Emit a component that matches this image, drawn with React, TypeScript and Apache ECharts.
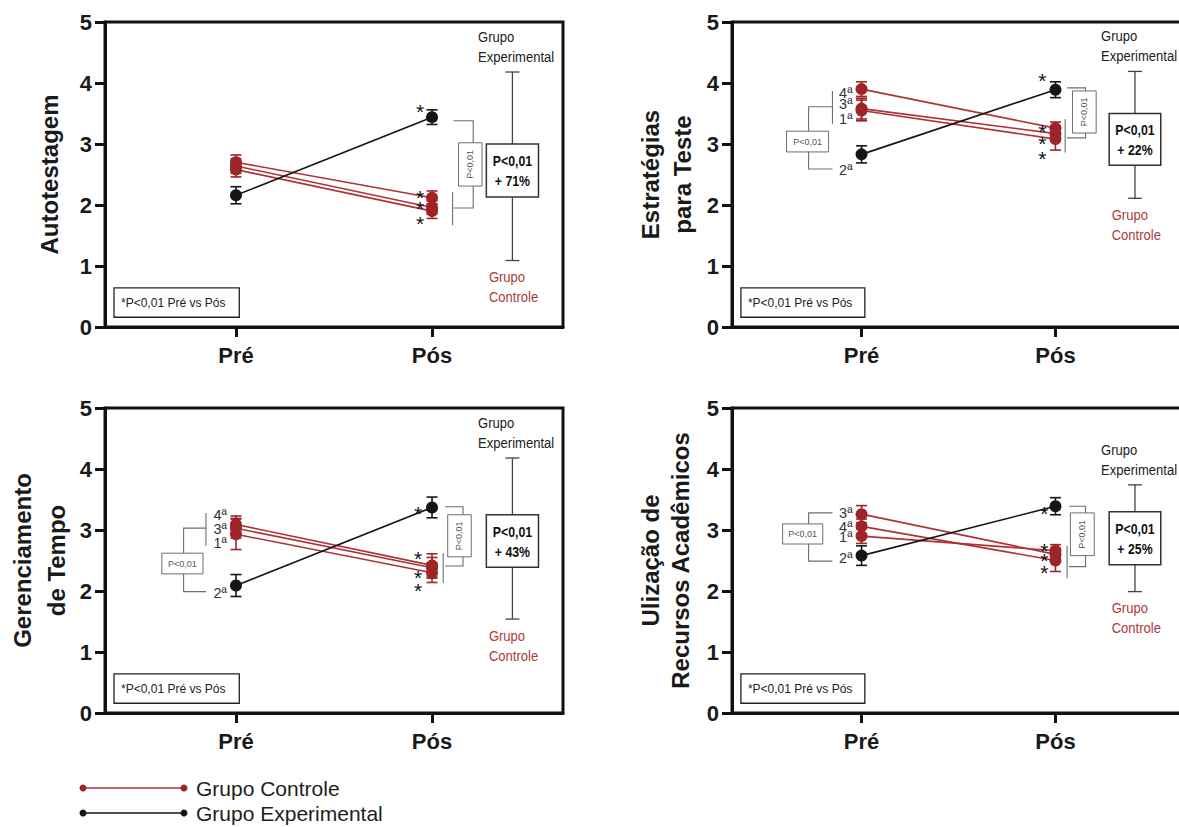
import React, { useEffect, useRef } from 'react';
import * as echarts from 'echarts';

// ---------------- data ----------------
const timePoints = ['Pré', 'Pós'];
const panelTitles = ['Autotestagem', 'Estratégias\npara Teste', 'Gerenciamento\nde Tempo', 'Ulização de\nRecursos Acadêmicos'];
const groupNames = ['Grupo Controle', 'Grupo Experimental'];
const significanceNote = '*P<0,01 Pré vs Pós';
const bracketText = 'P<0,01';

// Autotestagem
const autoControlePre = [2.70, 2.64, 2.58];
const autoControlePos = [2.12, 1.96, 1.90];
const autoControleErrPre = [0.12, 0.12, 0.12];
const autoControleErrPos = [0.11, 0.11, 0.12];
const autoExperimental = [2.16, 3.44];
const autoExperimentalErr = [0.14, 0.12];
const autoBox = [1.09, 2.13, 3.00, 4.18];
const autoBoxText = ['P<0,01', '+ 71%'];
const autoMoments: string[] = [];
const autoMomentExp = '';

// Estratégias para Teste
const estControlePre = [3.90, 3.58, 3.55];
const estControlePos = [3.26, 3.17, 3.08];
const estControleErrPre = [0.12, 0.17, 0.17];
const estControleErrPos = [0.10, 0.12, 0.18];
const estExperimental = [2.83, 3.89];
const estExperimentalErr = [0.14, 0.13];
const estBox = [2.11, 2.65, 3.50, 4.19];
const estBoxText = ['P<0,01', '+ 22%'];
const estMoments = ['4ª', '3ª', '1ª'];
const estMomentExp = '2ª';

// Gerenciamento de Tempo
const gerControlePre = [3.09, 3.03, 2.93];
const gerControlePos = [2.42, 2.38, 2.30];
const gerControleErrPre = [0.14, 0.16, 0.25];
const gerControleErrPos = [0.19, 0.17, 0.16];
const gerExperimental = [2.09, 3.37];
const gerExperimentalErr = [0.18, 0.17];
const gerBox = [1.54, 2.39, 3.25, 4.18];
const gerBoxText = ['P<0,01', '+ 43%'];
const gerMoments = ['4ª', '3ª', '1ª'];
const gerMomentExp = '2ª';

// Utilização de Recursos Acadêmicos
const recControlePre = [3.26, 3.06, 2.90];
const recControlePos = [2.60, 2.50, 2.66];
const recControleErrPre = [0.14, 0.12, 0.12];
const recControleErrPos = [0.10, 0.18, 0.10];
const recExperimental = [2.58, 3.39];
const recExperimentalErr = [0.16, 0.14];
const recBox = [1.99, 2.43, 3.30, 3.74];
const recBoxText = ['P<0,01', '+ 25%'];
const recMoments = ['3ª', '4ª', '1ª'];
const recMomentExp = '2ª';

const panels = [
  { title: panelTitles[0], cPre: autoControlePre, cPos: autoControlePos, cErrPre: autoControleErrPre, cErrPos: autoControleErrPos, exp: autoExperimental, expErr: autoExperimentalErr, box: autoBox, boxText: autoBoxText, moments: autoMoments, momentExp: autoMomentExp },
  { title: panelTitles[1], cPre: estControlePre, cPos: estControlePos, cErrPre: estControleErrPre, cErrPos: estControleErrPos, exp: estExperimental, expErr: estExperimentalErr, box: estBox, boxText: estBoxText, moments: estMoments, momentExp: estMomentExp },
  { title: panelTitles[2], cPre: gerControlePre, cPos: gerControlePos, cErrPre: gerControleErrPre, cErrPos: gerControleErrPos, exp: gerExperimental, expErr: gerExperimentalErr, box: gerBox, boxText: gerBoxText, moments: gerMoments, momentExp: gerMomentExp },
  { title: panelTitles[3], cPre: recControlePre, cPos: recControlePos, cErrPre: recControleErrPre, cErrPos: recControleErrPos, exp: recExperimental, expErr: recExperimentalErr, box: recBox, boxText: recBoxText, moments: recMoments, momentExp: recMomentExp },
];

// ---------------- layout ----------------
const PRE = 1;
const POS = 2;
const X_MIN = 0.332;
const X_MAX = 2.668;
const FONT = "'Liberation Sans', Arial, Helvetica, sans-serif";
const RED = '#9e2428';
const RED_LINE = '#ad3235';
const RED_TEXT = '#ad3a3c';
const BLACK = '#151515';
const BRACKET = '#6e6e6e';
const NOTE_BOX = [0.378, 1.017, 0.16, 0.64];

const layouts: any[] = [
  {
    grid: { left: 105, top: 22, width: 458, height: 305 }, nameGap: 42, nameLH: 28,
    starDx: -12, starExp: 3.61, starCtrl: [2.21, 2.02, 1.78],
    labelY: [], labelExpY: 0,
    left: null,
    right: { x1: 2.11, x2: 2.21, top: 3.38, bottom: 1.95, spanX: 2.105, spanTop: 2.21, spanBottom: 1.67, box: [2.135, 2.255, 2.31, 3.02] },
  },
  {
    grid: { left: 732, top: 22, width: 453, height: 305 }, nameGap: 34, nameLH: 31.6,
    starDx: -13, starExp: 4.12, starCtrl: [3.29, 3.09, 2.85],
    labelY: [3.84, 3.66, 3.41], labelExpY: 2.57,
    left: { spanX: 0.85, spanTop: 3.87, spanBottom: 3.33, outerX: 0.727, top: 3.61, bottom: 2.59, box: [0.613, 0.83, 2.87, 3.21] },
    right: { x1: 2.06, x2: 2.155, top: 3.92, bottom: 3.1, spanX: 2.05, spanTop: 3.41, spanBottom: 2.86, box: [2.088, 2.21, 3.18, 3.87] },
  },
  {
    grid: { left: 105, top: 408, width: 458, height: 305 }, nameGap: 31.5, nameLH: 34,
    starDx: -14, starExp: 3.36, starCtrl: [2.62, 2.30, 2.09],
    labelY: [3.25, 3.02, 2.79], labelExpY: 1.97,
    left: { spanX: 0.847, spanTop: 3.28, spanBottom: 2.74, outerX: 0.733, top: 3.03, bottom: 1.99, box: [0.622, 0.832, 2.28, 2.62] },
    right: { x1: 2.066, x2: 2.158, top: 3.38, bottom: 2.41, spanX: 2.057, spanTop: 2.62, spanBottom: 2.13, box: [2.08, 2.20, 2.56, 3.25] },
  },
  {
    grid: { left: 732, top: 408, width: 453, height: 305 }, nameGap: 37, nameLH: 30,
    starDx: -11, starExp: 3.36, starCtrl: [2.75, 2.59, 2.39],
    labelY: [3.28, 3.05, 2.89], labelExpY: 2.54,
    left: { spanX: 0.85, spanTop: null, spanBottom: null, outerX: 0.727, top: 3.28, bottom: 2.49, box: [0.593, 0.80, 2.77, 3.10] },
    right: { x1: 2.07, x2: 2.155, top: 3.39, bottom: 2.40, spanX: 2.06, spanTop: 2.74, spanBottom: 2.21, box: [2.077, 2.20, 2.58, 3.28] },
  },
];
const BOX_X = 2.41;
const BOX_HALF = 0.133;
const EXP_TEXT_X = 2.235;
const CTRL_TEXT_X = 2.29;

function txt(x: number, y: number, text: string, o: any = {}) {
  return {
    type: 'text', x, y,
    scaleX: o.scaleX ?? 1,
    rotation: o.rotation ?? 0,
    style: {
      text, x: 0, y: 0,
      fill: o.color ?? '#1e1e1e',
      fontSize: o.size ?? 14,
      fontFamily: FONT,
      fontWeight: o.weight ?? 'normal',
      align: o.align ?? 'center',
      verticalAlign: 'middle',
      lineHeight: o.lh ?? undefined,
    },
  };
}

function buildOption() {
  const grids: any[] = [];
  const xAxes: any[] = [];
  const yAxes: any[] = [];
  const series: any[] = [];

  panels.forEach((P, i) => {
    const L = layouts[i];
    grids.push({ ...L.grid, show: true, borderColor: '#111', borderWidth: 3, backgroundColor: 'transparent', containLabel: false, outerBoundsMode: 'none' });
    xAxes.push({
      type: 'value', gridIndex: i, min: X_MIN, max: X_MAX,
      splitLine: { show: false },
      axisLine: { show: true, onZero: false, lineStyle: { color: '#111', width: 3 } },
      axisTick: { show: true, customValues: [PRE, POS], length: 10, lineStyle: { color: '#111', width: 3 } },
      axisLabel: {
        show: true, customValues: [PRE, POS],
        formatter: (v: number) => (Math.abs(v - PRE) < 0.01 ? timePoints[0] : timePoints[1]),
        fontSize: 22, fontWeight: 'bold', color: '#1a1a1a', fontFamily: FONT, margin: 17,
      },
    });
    yAxes.push({
      type: 'value', gridIndex: i, min: 0, max: 5, interval: 1,
      name: P.title, nameLocation: 'middle', nameGap: L.nameGap, nameRotate: 90,
      nameTextStyle: { fontSize: 24, fontWeight: 'bold', color: '#1a1a1a', fontFamily: FONT, lineHeight: L.nameLH },
      splitLine: { show: false },
      axisLine: { show: true, onZero: false, lineStyle: { color: '#111', width: 3 } },
      axisTick: { show: true, length: 10, lineStyle: { color: '#111', width: 3 } },
      axisLabel: { fontSize: 22, fontWeight: 'bold', color: '#1a1a1a', fontFamily: FONT, margin: 13 },
    });

    // annotations (brackets, boxes, texts)
    series.push({
      type: 'custom', xAxisIndex: i, yAxisIndex: i, z: 1, silent: true, clip: false,
      data: [[PRE, 1]],
      renderItem: (_p: any, api: any) => {
        const c = (x: number, y: number) => api.coord([x, y]);
        const ch: any[] = [];
        const poly = (pts: number[][], stroke = BRACKET, lw = 1.1) =>
          ch.push({ type: 'polyline', shape: { points: pts.map((p) => c(p[0], p[1])) }, style: { stroke, lineWidth: lw, fill: 'none' } });
        const rectV = (x1: number, x2: number, y1: number, y2: number, stroke: string, lw: number) => {
          const a = c(x1, y2);
          const b = c(x2, y1);
          ch.push({ type: 'rect', shape: { x: a[0], y: a[1], width: b[0] - a[0], height: b[1] - a[1] }, style: { fill: '#fff', stroke, lineWidth: lw } });
          return [(a[0] + b[0]) / 2, (a[1] + b[1]) / 2];
        };
        // footnote box
        rectV(NOTE_BOX[0], NOTE_BOX[1], NOTE_BOX[2], NOTE_BOX[3], '#222', 1.3);
        const nl = c(NOTE_BOX[0], (NOTE_BOX[2] + NOTE_BOX[3]) / 2);
        ch.push(txt(nl[0] + 7, nl[1], significanceNote, { size: 12, align: 'left', color: '#222' }));

        // left bracket
        const lb = L.left;
        if (lb) {
          if (lb.spanTop != null) poly([[lb.spanX, lb.spanTop], [lb.spanX, lb.spanBottom]]);
          poly([[lb.spanX, lb.top], [lb.outerX, lb.top], [lb.outerX, lb.bottom], [lb.spanX, lb.bottom]]);
          const bc = rectV(lb.box[0], lb.box[1], lb.box[2], lb.box[3], BRACKET, 1);
          ch.push(txt(bc[0], bc[1], bracketText, { size: 9, color: '#555' }));
        }
        // right bracket
        const rb = L.right;
        poly([[rb.spanX, rb.spanTop], [rb.spanX, rb.spanBottom]]);
        poly([[rb.x1, rb.top], [rb.x2, rb.top], [rb.x2, rb.bottom], [rb.x1, rb.bottom]]);
        const rc = rectV(rb.box[0], rb.box[1], rb.box[2], rb.box[3], BRACKET, 1);
        ch.push(txt(rc[0], rc[1], bracketText, { size: 9, color: '#555', rotation: Math.PI / 2 }));

        // comparison box with whiskers
        const [wl, bl, bh, wh] = P.box;
        const wt = c(BOX_X, wh);
        const wb = c(BOX_X, wl);
        ch.push({ type: 'line', shape: { x1: wt[0], y1: wt[1], x2: wb[0], y2: wb[1] }, style: { stroke: '#444', lineWidth: 1.3 } });
        ch.push({ type: 'line', shape: { x1: wt[0] - 7, y1: wt[1], x2: wt[0] + 7, y2: wt[1] }, style: { stroke: '#444', lineWidth: 1.3 } });
        ch.push({ type: 'line', shape: { x1: wb[0] - 7, y1: wb[1], x2: wb[0] + 7, y2: wb[1] }, style: { stroke: '#444', lineWidth: 1.3 } });
        const bc = rectV(BOX_X - BOX_HALF, BOX_X + BOX_HALF, bl, bh, '#333', 1.5);
        ch.push(txt(bc[0], bc[1] + 1, P.boxText.join('\n'), { size: 14, weight: 'bold', scaleX: 0.88, lh: 20, color: '#111' }));
        const ge = c(EXP_TEXT_X, wh);
        ch.push(txt(ge[0], ge[1] - 25, groupNames[1].replace(' ', '\n'), { size: 14.5, align: 'left', scaleX: 0.9, lh: 20, color: '#222' }));
        const gc = c(CTRL_TEXT_X, wl);
        ch.push(txt(gc[0], gc[1] + 27, groupNames[0].replace(' ', '\n'), { size: 14.5, align: 'left', scaleX: 0.9, lh: 20, color: RED_TEXT }));
        return { type: 'group', children: ch };
      },
    });

    // error bars
    const errBars = (data: number[][], color: string) => ({
      type: 'custom', xAxisIndex: i, yAxisIndex: i, z: 2, silent: true, clip: false,
      data,
      renderItem: (_p: any, api: any) => {
        const x = api.value(0);
        const v = api.value(1);
        const e = api.value(2);
        const t = api.coord([x, v + e]);
        const b = api.coord([x, v - e]);
        const cw = 5.5;
        const st = { stroke: color, lineWidth: 1.6 };
        return {
          type: 'group', children: [
            { type: 'line', shape: { x1: t[0], y1: t[1], x2: b[0], y2: b[1] }, style: st },
            { type: 'line', shape: { x1: t[0] - cw, y1: t[1], x2: t[0] + cw, y2: t[1] }, style: st },
            { type: 'line', shape: { x1: b[0] - cw, y1: b[1], x2: b[0] + cw, y2: b[1] }, style: st },
          ],
        };
      },
    });
    const ctrlErr: number[][] = [];
    P.cPre.forEach((v, j) => {
      ctrlErr.push([PRE, v, P.cErrPre[j]]);
      ctrlErr.push([POS, P.cPos[j], P.cErrPos[j]]);
    });
    series.push(errBars(ctrlErr, RED));
    series.push(errBars([[PRE, P.exp[0], P.expErr[0]], [POS, P.exp[1], P.expErr[1]]], BLACK));

    // lines
    P.cPre.forEach((v, j) => {
      series.push({
        type: 'line', name: groupNames[0], xAxisIndex: i, yAxisIndex: i, z: 3, silent: true,
        data: [[PRE, v], [POS, P.cPos[j]]],
        symbol: 'circle', symbolSize: 12, showSymbol: true,
        lineStyle: { color: RED_LINE, width: 1.6 },
        itemStyle: { color: RED, borderWidth: 0 },
        emphasis: { disabled: true },
      });
    });
    series.push({
      type: 'line', name: groupNames[1], xAxisIndex: i, yAxisIndex: i, z: 3, silent: true,
      data: [[PRE, P.exp[0]], [POS, P.exp[1]]],
      symbol: 'circle', symbolSize: 12, showSymbol: true,
      lineStyle: { color: BLACK, width: 1.6 },
      itemStyle: { color: BLACK, borderWidth: 0 },
      emphasis: { disabled: true },
    });

    // stars and moment labels
    series.push({
      type: 'custom', xAxisIndex: i, yAxisIndex: i, z: 5, silent: true, clip: false,
      data: [[POS, 1]],
      renderItem: (_p: any, api: any) => {
        const c = (x: number, y: number) => api.coord([x, y]);
        const ch: any[] = [];
        const stars = [L.starExp, ...L.starCtrl];
        stars.forEach((sy: number) => {
          const p = c(POS, sy);
          ch.push(txt(p[0] + L.starDx, p[1] + 5, '*', { size: 21, color: '#111', lh: 9 }));
        });
        P.moments.forEach((m, j) => {
          const p = c(PRE, L.labelY[j]);
          ch.push(txt(p[0] - 9, p[1], m, { size: 14.5, align: 'right', color: '#333', lh: 11 }));
        });
        if (P.momentExp) {
          const p = c(PRE, L.labelExpY);
          ch.push(txt(p[0] - 9, p[1], P.momentExp, { size: 14.5, align: 'right', color: '#333', lh: 11 }));
        }
        return { type: 'group', children: ch };
      },
    });
  });

  const legendY = [788, 813];
  const legendColors = [[RED_LINE, RED], [BLACK, BLACK]];
  const graphic: any[] = [];
  groupNames.forEach((g, k) => {
    const y = legendY[k];
    graphic.push({ type: 'line', shape: { x1: 83, y1: y, x2: 184, y2: y }, style: { stroke: legendColors[k][0], lineWidth: 1.5 } });
    graphic.push({ type: 'circle', shape: { cx: 83, cy: y, r: 3.5 }, style: { fill: legendColors[k][1] } });
    graphic.push({ type: 'circle', shape: { cx: 184, cy: y, r: 3.5 }, style: { fill: legendColors[k][1] } });
    graphic.push({ type: 'text', x: 196, y, style: { text: g, fontSize: 21, fontFamily: FONT, fill: '#1e1e1e', verticalAlign: 'middle', align: 'left' } });
  });

  return {
    animation: false,
    backgroundColor: '#ffffff',
    textStyle: { fontFamily: FONT },
    grid: grids,
    xAxis: xAxes,
    yAxis: yAxes,
    series,
    graphic,
  };
}

export default function App() {
  const ref = useRef<HTMLDivElement>(null);
  useEffect(() => {
    if (!ref.current) return;
    const chart = echarts.init(ref.current, undefined, { renderer: 'svg' });
    chart.setOption(buildOption() as any);
    return () => chart.dispose();
  }, []);
  return <div ref={ref} style={{ position: 'absolute', left: 0, top: 0, width: 1179, height: 827, background: '#fff' }} />;
}
